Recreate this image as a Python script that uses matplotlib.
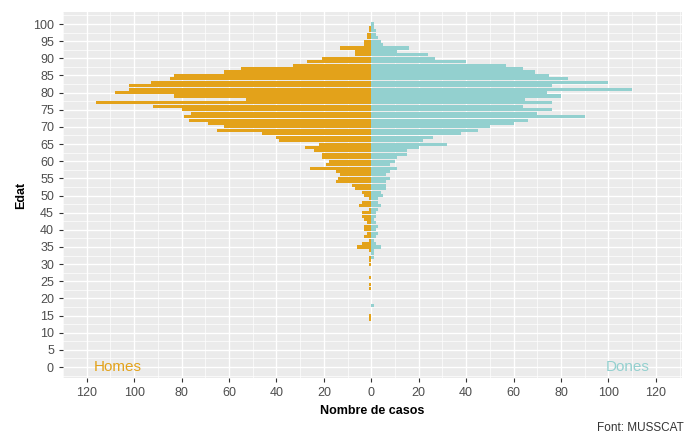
import numpy as np
import matplotlib
matplotlib.use("Agg")
import matplotlib.pyplot as plt

plt.rcParams['font.family'] = ['Liberation Sans', 'DejaVu Sans']

# cases per single year of age (0..100)
ages = list(range(101))

homes_by_age = {
    100: 0, 99: 1, 98: 1, 97: 2, 96: 2, 95: 3, 94: 3, 93: 13, 92: 7, 91: 7,
    90: 21, 89: 27, 88: 33, 87: 55, 86: 62, 85: 83, 84: 85, 83: 93, 82: 102, 81: 102,
    80: 108, 79: 83, 78: 53, 77: 116, 76: 92, 75: 80, 74: 76, 73: 79, 72: 77, 71: 69,
    70: 62, 69: 65, 68: 46, 67: 40, 66: 39, 65: 22, 64: 28, 63: 24, 62: 21, 61: 21,
    60: 18, 59: 19, 58: 26, 57: 15, 56: 13, 55: 14, 54: 15, 53: 8, 52: 7, 51: 4,
    50: 3, 49: 1, 48: 4, 47: 5, 46: 1, 45: 4, 44: 4, 43: 3, 42: 2, 41: 3,
    40: 3, 39: 2, 38: 3, 37: 1, 36: 4, 35: 6, 34: 1, 32: 1, 31: 1, 30: 1,
    26: 1, 24: 1, 23: 1, 15: 1, 14: 1,
}

dones_by_age = {
    100: 1, 99: 1, 98: 2, 97: 2, 96: 3, 95: 4, 94: 5, 93: 16, 92: 11, 91: 24,
    90: 27, 89: 40, 88: 57, 87: 64, 86: 69, 85: 75, 84: 83, 83: 100, 82: 76, 81: 110,
    80: 74, 79: 80, 78: 65, 77: 76, 76: 64, 75: 76, 74: 70, 73: 90, 72: 66, 71: 60,
    70: 50, 69: 45, 68: 38, 67: 26, 66: 22, 65: 32, 64: 20, 63: 15, 62: 15, 61: 11,
    60: 10, 59: 8, 58: 11, 57: 8, 56: 6, 55: 8, 54: 6, 53: 6, 52: 6, 51: 4,
    50: 5, 49: 3, 48: 3, 47: 4, 46: 3, 45: 2, 44: 2, 43: 1, 42: 2, 41: 3,
    40: 2, 39: 3, 38: 2, 37: 1, 36: 2, 35: 4, 34: 1, 33: 1, 32: 1, 18: 1,
}

homes = [homes_by_age.get(a, 0) for a in ages]
dones = [dones_by_age.get(a, 0) for a in ages]

x_ticks = [-120, -100, -80, -60, -40, -20, 0, 20, 40, 60, 80, 100, 120]
y_ticks = list(range(0, 101, 5))

col_h = "#E3A21A"
col_d = "#93D0CF"

fig = plt.figure(figsize=(6.95, 4.36), dpi=100)
ax = fig.add_axes([63/695, 1 - 378/436, (682 - 63)/695, (378 - 12)/436])

ax.set_facecolor("#EBEBEB")
ax.barh(ages, -np.array(homes), height=0.9, color=col_h, zorder=3)
ax.barh(ages, dones, height=0.9, color=col_d, zorder=3)

ax.set_xlim(-128.5, 131)
ax.set_ylim(-3.2, 103.5)

# ggplot-like grid: major + minor halfway
ax.set_xticks(x_ticks)
ax.set_xticklabels([str(abs(v)) for v in x_ticks])
ax.set_xticks(np.arange(-130, 131, 10), minor=True)
ax.set_yticks(y_ticks)
ax.set_yticks(np.arange(-2.5, 103, 2.5), minor=True)
ax.grid(which="major", color="white", linewidth=1.0, zorder=0)
ax.grid(which="minor", color="white", linewidth=0.5, zorder=0)
ax.set_axisbelow(True)

for s in ax.spines.values():
    s.set_visible(False)
ax.tick_params(which="major", length=3, color="#333333", labelsize=9, labelcolor="#4D4D4D")
ax.tick_params(which="minor", length=0)

ax.set_xlabel("Nombre de casos", fontsize=9, fontweight="bold", labelpad=4)
ax.set_ylabel("Edat", fontsize=9, fontweight="bold", labelpad=4)

ax.text(-107, 0, "Homes", color=col_h, fontsize=11, ha="center", va="center", zorder=4)
ax.text(108, 0, "Dones", color=col_d, fontsize=11, ha="center", va="center", zorder=4)

fig.text(684/695, 1 - 428/436, "Font: MUSSCAT", ha="right", va="center", fontsize=8.5, color="#333333")

fig.savefig("out.png", dpi=100)
